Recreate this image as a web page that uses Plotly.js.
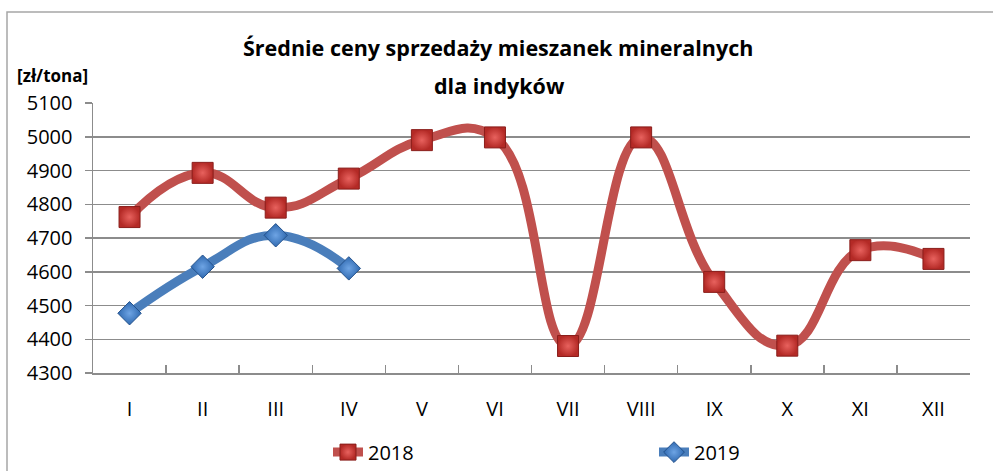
<!DOCTYPE html>
<html>
<head>
<meta charset="utf-8">
<script src="https://cdn.plot.ly/plotly-3.0.1.min.js"></script>
<style>
  html, body { margin: 0; padding: 0; background: #ffffff; }
  #chart { width: 993px; height: 471px; }
</style>
</head>
<body>
<div id="chart"></div>
<script>
const months = ["I", "II", "III", "IV", "V", "VI", "VII", "VIII", "IX", "X", "XI", "XII"];
const values2018 = [4762, 4893, 4790, 4876, 4990, 4998, 4380, 4998, 4570, 4381, 4664, 4638];
const months2019 = ["I", "II", "III", "IV"];
const values2019 = [4477, 4615, 4708, 4610];
const yTicks = [4300, 4400, 4500, 4600, 4700, 4800, 4900, 5000, 5100];
const titleLine1 = "Średnie ceny sprzedaży mieszanek mineralnych";
const titleLine2 = "dla indyków";
const yLabel = "[zł/tona]";

const FONT = "Open Sans, Liberation Sans, sans-serif";

const traces = [
  {
    x: months, y: values2018, name: "2018", type: "scatter", mode: "lines+markers",
    line: { color: "#C0504D", width: 9, shape: "spline", smoothing: 1.3 },
    marker: { symbol: "square", size: 21, color: "#B42A26",
      gradient: { type: "radial", color: "#E8625E" },
      line: { color: "#8A1E1B", width: 1 } }
  },
  {
    x: months2019, y: values2019, name: "2019", type: "scatter", mode: "lines+markers",
    line: { color: "#4A7EBB", width: 9, shape: "spline", smoothing: 1.3 },
    marker: { symbol: "diamond", size: 18, color: "#2F69B0",
      gradient: { type: "radial", color: "#6EA4E4" },
      line: { color: "#24528C", width: 1 } }
  }
];

const layout = {
  width: 993, height: 471,
  margin: { l: 93, r: 23, t: 103, b: 98, autoexpand: false },
  paper_bgcolor: "#ffffff", plot_bgcolor: "#ffffff",
  font: { family: FONT, size: 20, color: "#000000" },
  showlegend: true,
  legend: {
    orientation: "h", x: (328 - 93) / 877, xanchor: "left", y: -0.293, yanchor: "middle",
    entrywidth: 281, entrywidthmode: "pixels",
    font: { family: FONT, size: 20, color: "#000000" },
    bgcolor: "rgba(0,0,0,0)"
  },
  xaxis: {
    type: "category", categoryorder: "array", categoryarray: months,
    range: [-0.5, 11.5],
    showgrid: false, zeroline: false,
    showline: true, linecolor: "#8C8C8C", linewidth: 1.5,
    ticks: "inside", tickson: "boundaries", ticklen: 8, tickcolor: "#8C8C8C", tickwidth: 1.5,
    ticklabelstandoff: 17,
    tickfont: { family: FONT, size: 20, color: "#000000" }
  },
  yaxis: {
    range: [4300, 5100], tickvals: yTicks, ticktext: yTicks.map(String),
    showgrid: true, gridcolor: "#8C8C8C", gridwidth: 1.5,
    zeroline: false,
    showline: true, linecolor: "#8C8C8C", linewidth: 1.5,
    ticks: "outside", ticklen: 7, tickcolor: "#8C8C8C", tickwidth: 1.5,
    ticklabelstandoff: 8,
    tickfont: { family: FONT, size: 20, color: "#000000" }
  },
  annotations: [
    { text: "<b>" + titleLine1 + "</b>", xref: "paper", yref: "paper",
      x: (498 - 93) / 877, y: (373 - 48) / 270, xanchor: "center", yanchor: "middle",
      showarrow: false, font: { family: FONT, size: 21.5, color: "#000000" } },
    { text: "<b>" + titleLine2 + "</b>", xref: "paper", yref: "paper",
      x: (499 - 93) / 877, y: (373 - 85) / 270, xanchor: "center", yanchor: "middle",
      showarrow: false, font: { family: FONT, size: 21.5, color: "#000000" } },
    { text: "<b>" + yLabel + "</b>", xref: "paper", yref: "paper",
      x: (15 - 93) / 877, y: (373 - 75) / 270, xanchor: "left", yanchor: "middle",
      showarrow: false, font: { family: FONT, size: 17, color: "#000000" } }
  ],
  shapes: [
    { type: "rect", xref: "paper", yref: "paper",
      x0: (7 - 93) / 877, x1: (1000 - 93) / 877,
      y0: (373 - 480) / 270, y1: (373 - 12) / 270,
      line: { color: "#A6A6A6", width: 1.5 }, fillcolor: "rgba(0,0,0,0)", layer: "below" }
  ]
};

Plotly.newPlot("chart", traces, layout, { staticPlot: true, displayModeBar: false });
</script>
</body>
</html>
